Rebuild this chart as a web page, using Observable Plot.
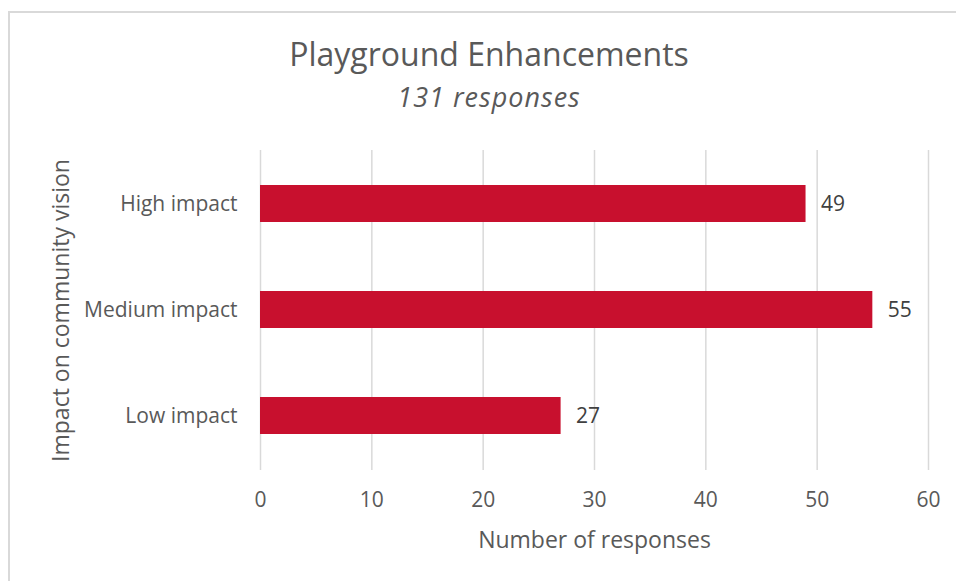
<!DOCTYPE html>
<html>
<head>
<meta charset="utf-8">
<script src="https://cdn.jsdelivr.net/npm/d3@7"></script>
<script src="https://cdn.jsdelivr.net/npm/@observablehq/plot@0.6"></script>
<style>
  html, body { margin: 0; padding: 0; background: #fff; }
  #wrap { position: relative; width: 956px; height: 581px; overflow: hidden; font-family: "Open Sans", Lato, sans-serif; }
  #frame { position: absolute; left: 8px; top: 11px; width: 960px; height: 600px; border-left: 2px solid #d9d9d9; border-top: 2px solid #d9d9d9; box-sizing: border-box; }
  #title { position: absolute; left: 0; width: 978px; top: 38px; text-align: center; font-size: 32px; color: #595959; line-height: 1; }
  #subtitle { position: absolute; left: 0; width: 978px; top: 83px; text-align: center; font-size: 27px; letter-spacing: 1px; font-style: italic; color: #595959; line-height: 1; }
  #chart { position: absolute; left: 0; top: 0; }
</style>
</head>
<body>
<div id="wrap">
  <div id="frame"></div>
  <div id="title">Playground Enhancements</div>
  <div id="subtitle">131 responses</div>
  <div id="chart"></div>
</div>
<script>
const categories = ["High impact", "Medium impact", "Low impact"];
const values = [49, 55, 27];
const xTicks = [0, 10, 20, 30, 40, 50, 60];
const xLabel = "Number of responses";
const yLabel = "Impact on community vision";

const data = categories.map((c, i) => ({category: c, value: values[i]}));

const font = "'Open Sans', Lato, sans-serif";
const plot = Plot.plot({
  width: 956,
  height: 581,
  marginLeft: 260,
  marginRight: 28,
  marginTop: 150,
  marginBottom: 111,
  style: {fontFamily: font, color: "#595959", background: "transparent"},
  x: {domain: [0, 60], ticks: xTicks, label: null},
  y: {domain: categories, paddingInner: 0.65, paddingOuter: 0.325, label: null},
  marks: [
    Plot.ruleX(xTicks, {stroke: "#d9d9d9", strokeWidth: 1.5}),
    Plot.barX(data, {x: "value", y: "category", fill: "#c8102e"}),
    Plot.text(data, {x: "value", y: "category", text: d => String(d.value), textAnchor: "start", dx: 15, fontSize: 21, fill: "#404040"}),
    Plot.axisX({ticks: xTicks, tickSize: 0, tickPadding: 22, fontSize: 21, label: null}),
    Plot.axisY({tickSize: 0, tickPadding: 23, fontSize: 21, label: null}),
    Plot.text([xLabel], {frameAnchor: "bottom", dy: 70, fontSize: 23, fill: "#595959", lineAnchor: "middle"}),
    Plot.text([yLabel], {frameAnchor: "left", dx: -199, rotate: -90, textAnchor: "middle", fontSize: 23, fill: "#595959", lineAnchor: "middle"})
  ]
});
document.getElementById("chart").appendChild(plot);
</script>
</body>
</html>
